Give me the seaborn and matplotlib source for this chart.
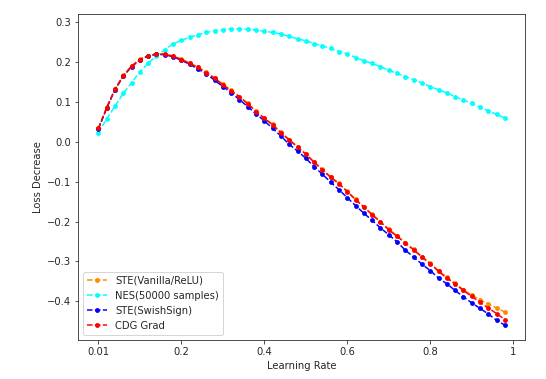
import numpy as np
import matplotlib
matplotlib.use("Agg")
import matplotlib.pyplot as plt
import seaborn as sns

# learning-rate grid (50 runs); first tick is shown as 0.01
lr = np.round(np.arange(50) * 0.02, 2)

ste_relu = [0.035, 0.087, 0.133, 0.167, 0.191, 0.208, 0.217, 0.222, 0.221, 0.216,
            0.208, 0.198, 0.188, 0.175, 0.161, 0.145, 0.130, 0.114, 0.097, 0.077,
            0.060, 0.044, 0.024, 0.006, -0.012, -0.030, -0.050, -0.069, -0.088, -0.104,
            -0.124, -0.144, -0.163, -0.182, -0.200, -0.219, -0.236, -0.253, -0.270, -0.288,
            -0.305, -0.323, -0.340, -0.355, -0.371, -0.385, -0.396, -0.407, -0.417, -0.427]

nes = [0.023, 0.058, 0.090, 0.122, 0.149, 0.176, 0.198, 0.216, 0.232, 0.246,
       0.255, 0.263, 0.269, 0.275, 0.279, 0.282, 0.284, 0.284, 0.283, 0.281,
       0.278, 0.275, 0.271, 0.265, 0.259, 0.254, 0.247, 0.241, 0.235, 0.227,
       0.221, 0.212, 0.204, 0.197, 0.189, 0.180, 0.172, 0.164, 0.156, 0.148,
       0.139, 0.131, 0.123, 0.114, 0.105, 0.097, 0.087, 0.078, 0.069, 0.060]

ste_swish = [0.032, 0.085, 0.131, 0.165, 0.189, 0.206, 0.216, 0.220, 0.219, 0.214,
             0.205, 0.195, 0.183, 0.171, 0.155, 0.139, 0.124, 0.106, 0.089, 0.070,
             0.053, 0.034, 0.015, -0.006, -0.023, -0.041, -0.062, -0.081, -0.101, -0.120,
             -0.140, -0.160, -0.179, -0.197, -0.216, -0.233, -0.251, -0.272, -0.289, -0.307,
             -0.323, -0.342, -0.356, -0.373, -0.389, -0.404, -0.418, -0.432, -0.448, -0.460]

cdg = [0.034, 0.086, 0.132, 0.166, 0.190, 0.207, 0.216, 0.221, 0.220, 0.215,
       0.207, 0.197, 0.187, 0.174, 0.160, 0.143, 0.129, 0.113, 0.096, 0.076,
       0.059, 0.043, 0.023, 0.005, -0.013, -0.031, -0.051, -0.070, -0.089, -0.105,
       -0.125, -0.145, -0.164, -0.183, -0.201, -0.221, -0.237, -0.254, -0.271, -0.289,
       -0.306, -0.325, -0.342, -0.357, -0.373, -0.388, -0.403, -0.417, -0.431, -0.446]

series = [
    ("STE(Vanilla/ReLU)", ste_relu, "darkorange"),
    ("NES(50000 samples)", nes, "cyan"),
    ("STE(SwishSign)", ste_swish, "blue"),
    ("CDG Grad", cdg, "red"),
]

sns.set_style("ticks")
fig = plt.figure(figsize=(546 / 72, 379 / 72), dpi=72)
ax = fig.add_axes([0.143, 0.103, 0.819, 0.860])

for name, vals, col in series:
    sns.lineplot(x=lr, y=vals, ax=ax, label=name, color=col, linestyle="--",
                 marker=".", markersize=8, markeredgecolor=col, linewidth=1.5)

ax.set_xticks([0, 0.2, 0.4, 0.6, 0.8, 1.0])
ax.set_xticklabels(["0.01", "0.2", "0.4", "0.6", "0.8", "1"])
ax.set_xlabel("Learning Rate")
ax.set_ylabel("Loss Decrease")
ax.legend(loc="lower left", frameon=True)

fig.savefig("out.png", dpi=72)
